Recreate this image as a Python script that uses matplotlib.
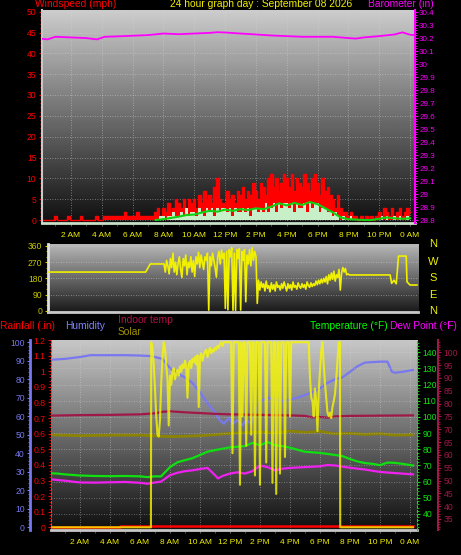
import numpy as np
import matplotlib
matplotlib.use("Agg")
import matplotlib.pyplot as plt
from matplotlib.ticker import MultipleLocator

plt.rcParams['font.family'] = ['Liberation Sans', 'DejaVu Sans']

W, H = 461, 555

# ---------------- data ----------------
time_labels = ["2 AM", "4 AM", "6 AM", "8 AM", "10 AM", "12 PM",
               "2 PM", "4 PM", "6 PM", "8 PM", "10 PM", "0 AM"]
label_hours = [2, 4, 6, 8, 10, 12, 14, 16, 18, 20, 22, 24]

# wind gust (mph), every 10 minutes from midnight
gust_mph = [
    0, 0, 0, 0, 0, 0,
    1, 0, 0, 0, 0, 1,
    0, 0, 0, 0, 1, 0,
    0, 0, 0, 0, 1, 0,
    0, 1, 1, 1, 1, 1,
    1, 1, 1, 2, 1, 1,
    1, 1, 2, 1, 1, 1,
    1, 1, 1, 2, 3, 1,
    3, 2, 4, 2, 3, 5,
    4, 3, 5, 3, 5, 4,
    5, 3, 6, 4, 7, 5,
    6, 4, 8, 10, 5, 4,
    3, 7, 5, 6, 4, 7,
    6, 8, 5, 7, 6, 9,
    7, 5, 9, 8, 6, 10,
    11, 8, 10, 7, 9, 11,
    10, 8, 11, 7, 10, 9,
    8, 11, 9, 7, 10, 11,
    9, 6, 10, 7, 8, 6,
    5, 3, 6, 3, 2, 2,
    1, 2, 1, 1, 0, 1,
    0, 1, 0, 1, 0, 1,
    2, 1, 3, 2, 1, 3,
    1, 2, 3, 1, 2, 3,
    2,
]

# wind speed (mph), every 10 minutes from midnight
wind_mph = [
    0, 0, 0, 0, 0, 0,
    0, 0, 0, 0, 0, 0,
    0, 0, 0, 0, 0, 0,
    0, 0, 0, 0, 0, 0,
    0, 0, 0, 0, 0, 0,
    0, 0, 0, 0, 0, 0,
    0, 0, 0, 0, 0, 0,
    0, 0, 0, 0, 0, 1,
    1, 0, 1, 1, 2, 1,
    1, 2, 1, 3, 1, 2,
    2, 1, 3, 2, 1, 3,
    2, 3, 1, 3, 2, 3,
    3, 2, 3, 1, 3, 2,
    2, 3, 2, 3, 1, 3,
    3, 2, 3, 2, 4, 2,
    3, 4, 2, 4, 3, 4,
    4, 3, 4, 2, 4, 3,
    3, 4, 2, 4, 3, 4,
    4, 2, 3, 3, 2, 2,
    1, 2, 1, 0, 1, 0,
    0, 1, 0, 0, 0, 0,
    0, 0, 0, 0, 0, 0,
    0, 1, 0, 1, 0, 0,
    1, 0, 1, 0, 0, 1,
    0,
]

# average wind (mph), every 30 minutes from 7:30
avg_wind_mph = [0, 0.2, 0.5, 0.8, 1.2, 1.3, 1.8, 2.2, 2.0, 2.5, 2.2, 2.6, 2.4, 2.8,
                2.6, 3.2, 4.0, 3.5, 4.1, 3.6, 4.3, 3.8, 2.8, 1.8, 0.6, 0.2, 0.1, 0,
                0, 0.3, 0.6, 0.4, 0.3, 0.4]

baro_hours = [0, 0.5, 1, 2, 3, 3.7, 4.2, 5, 6, 7, 8, 9, 10, 11, 11.5, 12, 13, 14,
              15, 16, 17, 18, 19, 20, 20.5, 21, 22, 23, 23.5, 24, 24.2]
baro_in = [30.196, 30.19, 30.21, 30.205, 30.2, 30.19, 30.21, 30.213, 30.218,
           30.223, 30.235, 30.23, 30.235, 30.24, 30.245, 30.243, 30.235, 30.228,
           30.22, 30.215, 30.21, 30.21, 30.21, 30.2, 30.196, 30.205, 30.215,
           30.228, 30.244, 30.226, 30.224]

# wind direction (degrees)
dir_calm_hours = [0, 6.3, 6.6, 7.45]
dir_calm_deg = [215, 215, 260, 260]
# every 5 minutes from 7:30 to 19:30
dir_gusty_deg = [
    260, 215, 280, 250, 205, 290, 240, 320, 215, 270, 200, 265,
    300, 230, 185, 290, 250, 310, 200, 270, 240, 300, 215, 280,
    190, 300, 260, 325, 240, 310, 270, 230, 300, 280, 320, 3,
    300, 250, 320, 280, 240, 187, 300, 330, 260, 338, 290, 320,
    13, 330, 5, 340, 300, 350, 3, 320, 2, 340, 290, 345,
    4, 330, 280, 340, 50, 310, 260, 340, 250, 350, 280, 330,
    300, 41, 170, 115, 160, 130, 150, 110, 165, 125, 140, 105,
    155, 120, 145, 110, 160, 130, 140, 115, 150, 125, 160, 135,
    110, 150, 125, 145, 115, 160, 130, 140, 120, 155, 135, 125,
    150, 130, 145, 120, 160, 140, 130, 155, 135, 150, 140, 165,
    145, 170, 150, 175, 155, 180, 160, 190, 150, 200, 170, 210,
    175, 220, 165, 200, 185, 230, 115, 210, 240, 215, 235, 200,
    205,
]
dir_evening_hours = [19.6, 22.25, 22.35, 22.5, 22.65, 22.8, 23.3, 23.35, 23.55, 24.0]
dir_evening_deg = [199, 199, 152, 170, 150, 304, 304, 161, 143, 143]

rain_hours = [0, 4.67, 4.67, 24.2]
rain_in = [0, 0, 0.01, 0.01]

hum_hours = [0, 1, 2, 2.7, 4, 5, 6, 6.7, 7, 7.5, 8, 8.5, 9, 9.5, 10, 10.5, 11, 11.3,
             11.6, 11.9, 12.2, 12.5, 12.8, 13.1, 13.4, 13.7, 14, 14.5, 15, 15.5, 16,
             16.5, 17, 17.5, 18, 18.5, 19, 19.5, 20, 20.5, 21, 22, 22.5, 22.8, 23,
             23.5, 24.2]
hum_pct = [90.5, 91, 92, 93, 93, 93, 92.8, 92.5, 92, 91, 86, 83, 81, 78, 73, 67, 62,
           58, 56, 59, 56, 58, 55, 58, 56, 62, 68, 70, 69, 68, 69, 70, 71.5, 73, 75,
           78, 80, 81, 84, 87, 89, 89.5, 89.5, 84, 83.5, 84, 85]

temp_hours = [0, 0.5, 1, 2, 3, 4, 5, 6, 6.5, 7, 7.4, 8, 8.5, 9, 9.5, 10, 10.5, 11,
              12, 13, 13.5, 14, 14.5, 15, 15.5, 16, 17, 18, 19, 19.5, 20, 20.5, 21,
              21.5, 22, 22.5, 23, 23.5, 24.2]
temp_f = [65.2, 65, 64.5, 63.8, 63.5, 63.4, 63.5, 63.3, 62.8, 63.3, 63.2, 69, 72,
          73.3, 74.5, 76.5, 78.5, 79.5, 81.2, 82, 84, 82.5, 84.5, 82.5, 82, 81, 78.5,
          77.8, 76.5, 75.8, 74, 72.5, 71.5, 71, 70.2, 71.8, 71.6, 71, 70]

dew_hours = [0, 0.5, 1, 1.5, 2, 3, 4, 5, 6, 6.5, 7, 7.4, 8, 8.5, 9, 9.5, 10, 10.5,
             11, 11.2, 11.5, 12, 12.5, 13, 13.5, 14, 14.5, 15, 15.5, 16, 17, 18,
             18.5, 19, 20, 21, 22, 23, 24.2]
dew_f = [61.5, 61, 60.6, 60, 59.5, 59.4, 59.6, 59.8, 59.3, 58.7, 59.5, 60, 64, 65.5,
         66.5, 67, 67.8, 68.5, 64, 62, 63.5, 65, 65.8, 65, 66.5, 70, 69, 67, 68,
         68.5, 69, 69.5, 70.3, 70, 68.6, 67.5, 66, 65.3, 64.5]

indoor_hours = [0, 2, 4, 6, 7, 7.5, 8, 9, 10, 11, 12, 14, 16, 17, 17.5, 18, 18.5,
                19, 20, 22, 24.2]
indoor_f = [75.3, 75.5, 75.6, 75.8, 76.2, 76.8, 77, 76.6, 76.3, 76, 75.8, 75.6,
            75.4, 75.2, 74.6, 74.8, 74.5, 75, 75.2, 75.3, 75.4]

olive_hours = [0, 2, 4, 6, 7, 8, 9, 10, 11, 12, 13, 14, 15, 16, 17, 18, 19, 20, 21,
               22, 23, 24.2]
olive_vals = [50, 49.5, 49.8, 49.8, 49.4, 49, 49.2, 49.5, 50, 50.8, 51.2, 51.5, 51,
              52, 51.3, 51.8, 50.5, 50.8, 50.2, 50.6, 49.8, 50]

# solar, every 5 minutes from 6:45 to 19:20 (zero at night)
solar_day = [
    100, 96, 88, 75, 60, 50, 49, 58, 78, 92, 100, 97,
    88, 80, 55, 82, 77, 84, 86, 80, 83, 85, 82, 87,
    84, 88, 86, 90, 87, 70, 88, 90, 86, 91, 89, 92,
    88, 93, 65, 92, 94, 90, 93, 95, 96, 92, 95, 97,
    94, 96, 95, 97, 96, 98, 97, 99, 100, 98, 100, 100,
    100, 100, 100, 100, 100, 40, 100, 100, 100, 100, 100, 23,
    100, 60, 100, 100, 44, 100, 100, 100, 50, 100, 100, 28,
    100, 100, 100, 23, 100, 100, 100, 100, 35, 100, 100, 100,
    100, 24, 100, 100, 18, 100, 100, 29, 100, 100, 100, 38,
    100, 100, 100, 60, 100, 100, 100, 100, 100, 100, 100, 100,
    100, 100, 100, 100, 100, 100, 100, 81, 70, 68, 60, 75,
    68, 52, 73, 85, 95, 100, 88, 78, 70, 62, 60, 62,
    59, 65, 68, 72, 80, 90, 100, 100,
]

YELLOW = '#f0f000'
TICK_FS = 6.2


def add_panel(fig, left, top, right, bottom):
    return fig.add_axes([left / W, 1 - bottom / H, (right - left) / W, (bottom - top) / H])


def shade(ax, top_gray, bottom_gray):
    g = np.linspace(top_gray, bottom_gray, 200).reshape(-1, 1)
    ax.imshow(g, cmap='gray', vmin=0, vmax=1, aspect='auto', extent=(0, 1, 0, 1),
              transform=ax.transAxes, zorder=0)


def hide_spines(ax, names):
    for n in names:
        ax.spines[n].set_visible(False)


def grid(ax, axis='both'):
    ax.set_axisbelow(True)
    ax.grid(True, axis=axis, color='#d8d8d8', linestyle=(0, (1, 2)), linewidth=0.6, alpha=0.6)


fig = plt.figure(figsize=(W / 100, H / 100), dpi=100, facecolor='black')

# ---------------- top: wind speed / barometer ----------------
ax1 = add_panel(fig, 42, 10, 415, 223)
shade(ax1, 0.80, 0.06)
t10 = np.arange(len(gust_mph)) / 6
ax1.fill_between(t10, 0, gust_mph, step='mid', color='#ff0000', lw=0, zorder=2)
ax1.step(t10, gust_mph, where='mid', color='#ff0000', lw=1, zorder=2)
ax1.fill_between(t10, 0, wind_mph, step='mid', color='#c8f0c8', lw=0, zorder=3)
t30 = 7.5 + np.arange(len(avg_wind_mph)) / 2
ax1.plot(t30, avg_wind_mph, color='#10d010', lw=1.5, zorder=4)
ax1.set_xlim(0.13, 24.32)
ax1.set_ylim(-0.72, 50.4)
ax1.yaxis.set_major_locator(MultipleLocator(5))
ax1.yaxis.set_minor_locator(MultipleLocator(1))
ax1.set_xticks(label_hours, time_labels)
ax1.xaxis.set_minor_locator(MultipleLocator(1))
ax1.tick_params(axis='y', which='both', colors='#ff0000', labelsize=TICK_FS, length=2.5, pad=1.5)
ax1.tick_params(axis='y', which='minor', length=1.5)
ax1.tick_params(axis='x', which='both', color='#606060', labelcolor=YELLOW,
                labelsize=6, length=2, pad=4.5)
grid(ax1)
hide_spines(ax1, ['top', 'right'])
ax1.spines['left'].set_color('#c8c8c8')
ax1.spines['left'].set_linewidth(1.5)
ax1.spines['bottom'].set_color('#c8e0c8')
ax1.spines['bottom'].set_linewidth(2)

ax1b = ax1.twinx()
ax1b.plot(baro_hours, baro_in, color='#ff00ff', lw=1.3)
ax1b.set_ylim(28.7776, 30.416)
baro_ticks = np.round(np.arange(28.8, 30.41, 0.1), 1)
ax1b.set_yticks(baro_ticks, [f"{v:g}" for v in baro_ticks])
ax1b.yaxis.set_minor_locator(MultipleLocator(0.02))
ax1b.tick_params(axis='y', which='both', colors='#ff00ff', labelsize=5.8, length=2, pad=1)
ax1b.tick_params(axis='y', which='minor', length=1.2)
hide_spines(ax1b, ['top', 'left', 'bottom'])
ax1b.spines['right'].set_color('#ff00ff')
ax1b.spines['right'].set_linewidth(1.5)

fig.text(35 / W, 1 - 7 / H, "Windspeed (mph)", color='#ff0000', fontsize=7.4, va='baseline')
fig.text(170 / W, 1 - 7 / H, "24 hour graph day : September 08 2026", color=YELLOW,
         fontsize=7.4, va='baseline')
fig.text(368 / W, 1 - 7 / H, "Barometer (in)", color='#ff00ff', fontsize=7.4, va='baseline')

# ---------------- middle: wind direction ----------------
ax2 = add_panel(fig, 48, 244, 418, 312)
shade(ax2, 0.72, 0.10)
t5 = 7.5 + np.arange(len(dir_gusty_deg)) / 12
dir_hours = np.concatenate([dir_calm_hours, t5, dir_evening_hours])
dir_deg = np.concatenate([dir_calm_deg, dir_gusty_deg, dir_evening_deg])
ax2.plot(dir_hours, dir_deg, color=YELLOW, lw=1.2, zorder=3)
ax2.set_xlim(-0.07, 24.07)
ax2.set_ylim(-7, 371)
ax2.set_yticks([0, 90, 180, 270, 360])
ax2.yaxis.set_minor_locator(MultipleLocator(30))
ax2.set_xticks([])
ax2.tick_params(axis='y', which='both', colors='#c8c800', labelsize=TICK_FS, length=2.5, pad=1.5)
ax2.tick_params(axis='y', which='minor', length=1.5)
grid(ax2, 'y')
hide_spines(ax2, ['top', 'right'])
ax2.spines['left'].set_color('#e0e0e0')
ax2.spines['left'].set_linewidth(2)
ax2.spines['bottom'].set_color('#c8c8c8')
ax2.spines['bottom'].set_linewidth(2)
for letter, y in zip(["N", "W", "S", "E", "N"], [244, 261.5, 278, 295, 310.5]):
    fig.text(433 / W, 1 - y / H, letter, color=YELLOW, fontsize=8, ha='center', va='center')

# ---------------- bottom: rain / humidity / temperatures / solar ----------------
ax3 = add_panel(fig, 51, 340, 417, 530)
shade(ax3, 0.78, 0.06)
ax3.plot(rain_hours, rain_in, color='#ff0000', lw=1.8, zorder=3)
ax3.set_xlim(0.067, 24.47)
ax3.set_ylim(-0.017, 1.196)
rain_ticks = np.round(np.arange(0, 1.21, 0.1), 1)
ax3.set_yticks(rain_ticks, [f"{v:g}" for v in rain_ticks])
ax3.yaxis.set_minor_locator(MultipleLocator(0.02))
ax3.set_xticks(label_hours, time_labels)
ax3.xaxis.set_minor_locator(MultipleLocator(1))
ax3.tick_params(axis='y', which='both', colors='#ff0000', labelsize=TICK_FS, length=2.5, pad=1.5)
ax3.tick_params(axis='y', which='minor', length=1.2)
ax3.tick_params(axis='x', which='both', color='#606060', labelcolor=YELLOW,
                labelsize=6, length=2, pad=4.5)
ax3.grid(True, axis='x', color='#d8d8d8', linestyle=(0, (1, 2)), linewidth=0.6, alpha=0.6)
ax3.set_axisbelow(True)
hide_spines(ax3, ['top', 'right'])
ax3.spines['left'].set_color('#ff3030')
ax3.spines['left'].set_linestyle((0, (2, 2)))
ax3.spines['bottom'].set_color('#c8c8c8')
ax3.spines['bottom'].set_linewidth(2)

axh = ax3.twinx()
axh.plot(hum_hours, hum_pct, color='#7878f0', lw=1.6)
axh.plot(olive_hours, olive_vals, color='#8c8400', lw=2)
axh.set_ylim(-1.46, 101.2)
axh.yaxis.set_major_locator(MultipleLocator(10))
axh.yaxis.set_minor_locator(MultipleLocator(2))
axh.yaxis.set_ticks_position('left')
axh.spines['left'].set_visible(True)
axh.spines['left'].set_position(('outward', 14.8))
axh.spines['left'].set_color('#7878f0')
axh.spines['left'].set_linewidth(2)
hide_spines(axh, ['top', 'right', 'bottom'])
axh.tick_params(axis='y', which='both', colors='#7878f0', labelsize=TICK_FS, length=2.5, pad=1.5)
axh.tick_params(axis='y', which='minor', length=1.2)

axi = ax3.twinx()
axi.plot(indoor_hours, indoor_f, color='#a01848', lw=1.6)
axi.set_ylim(30.7, 104.8)
axi.set_yticks(np.arange(35, 101, 5))
axi.yaxis.set_minor_locator(MultipleLocator(1))
axi.spines['right'].set_position(('outward', 15.3))
axi.spines['right'].set_color('#a01848')
axi.spines['right'].set_linewidth(1.5)
hide_spines(axi, ['top', 'left', 'bottom'])
axi.tick_params(axis='y', which='both', colors='#a01848', labelsize=TICK_FS, length=2.5, pad=1.5)
axi.tick_params(axis='y', which='minor', length=1.2)

axt = ax3.twinx()
axt.plot(temp_hours, temp_f, color='#10e010', lw=1.6)
axt.plot(dew_hours, dew_f, color='#f020f0', lw=1.6)
axt.set_ylim(30.1, 147.6)
axt.set_yticks(np.arange(40, 141, 10))
axt.yaxis.set_minor_locator(MultipleLocator(2))
axt.spines['right'].set_color('#10e010')
axt.spines['right'].set_linestyle((0, (2, 2)))
hide_spines(axt, ['top', 'left', 'bottom'])
axt.tick_params(axis='y', which='both', colors='#10e010', labelsize=TICK_FS, length=2.5, pad=1.5)
axt.tick_params(axis='y', which='minor', length=1.2)
axt.grid(True, axis='y', color='#d8d8d8', linestyle=(0, (1, 2)), linewidth=0.6, alpha=0.5)

axs = ax3.twinx()
solar_t = 6.75 + np.arange(len(solar_day)) / 12
solar_hours = np.concatenate([[0.067, 6.73], solar_t, [19.35, 24.2]])
solar_vals = np.concatenate([[0, 0], solar_day, [0, 0]])
axs.plot(solar_hours, solar_vals, color='#f8f800', lw=1.5, alpha=0.8)
axs.set_ylim(-1.46, 101.2)
axs.set_yticks([])
for s in axs.spines.values():
    s.set_visible(False)

fig.text(0, 1 - 326 / H, "Rainfall (.in)", color='#ff0000', fontsize=7.4, va='center')
fig.text(65 / W, 1 - 326 / H, "Humidity", color='#8080ff', fontsize=7.4, va='center')
fig.text(118 / W, 1 - 320 / H, "Indoor temp", color='#b01048', fontsize=7.4, va='center')
fig.text(118 / W, 1 - 332 / H, "Solar", color='#a09000', fontsize=7.4, va='center')
fig.text(310 / W, 1 - 326 / H, "Temperature (°F)", color='#00ff00', fontsize=7.4, va='center')
fig.text(390 / W, 1 - 326 / H, "Dew Point (°F)", color='#ff00ff', fontsize=7.4, va='center')

fig.savefig("out.png", dpi=100, facecolor='black')
